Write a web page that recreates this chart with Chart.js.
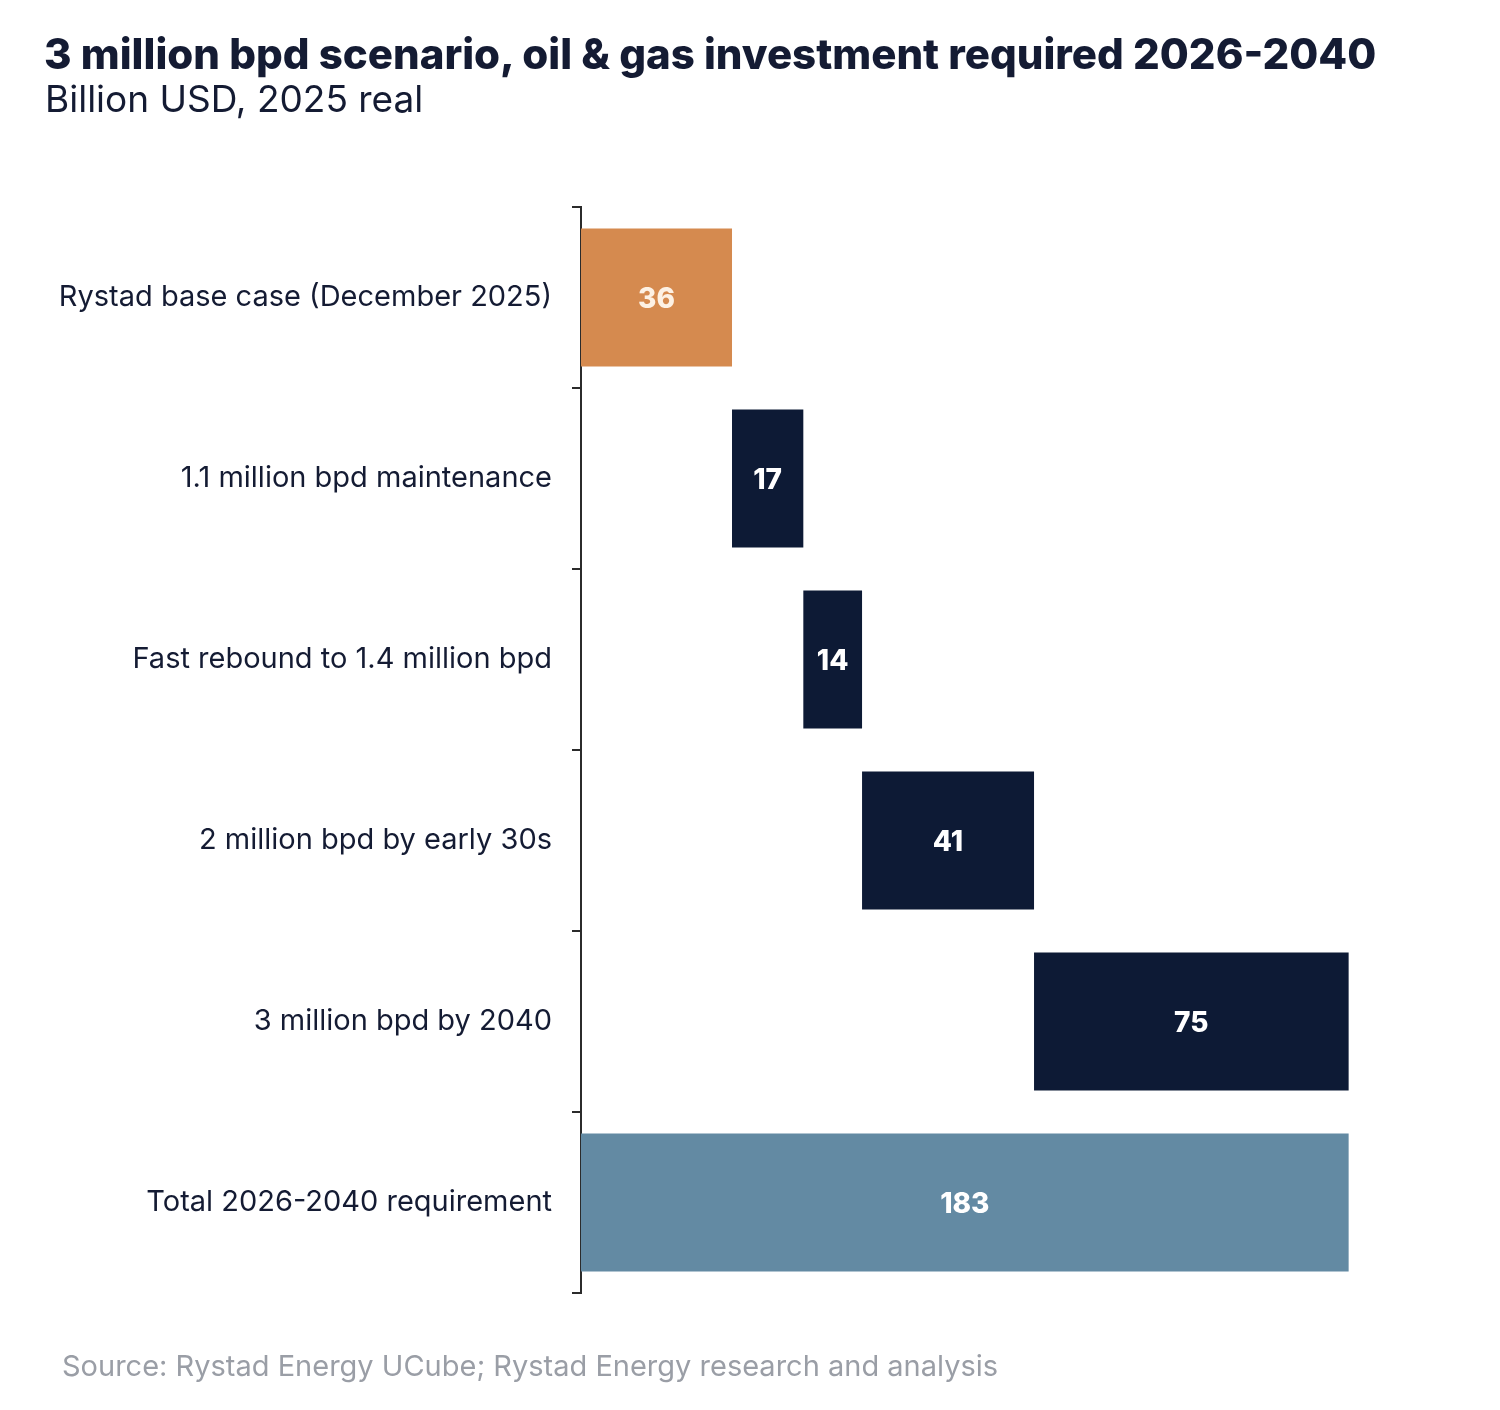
<!DOCTYPE html>
<html>
<head>
<meta charset="utf-8">
<script src="https://cdn.jsdelivr.net/npm/chart.js@4"></script>
<style>
  html, body { margin: 0; padding: 0; background: #ffffff; }
  #wrap { position: relative; width: 1500px; height: 1410px; }
  #myChart { position: absolute; left: 0; top: 0; }
  .title { position: absolute; left: 44px; top: 28px; font: 800 42px Inter, "Liberation Sans", sans-serif; color: #141b33; white-space: nowrap; }
  .subtitle { position: absolute; left: 45px; top: 76px; font: 37px Inter, "Liberation Sans", sans-serif; color: #141b33; white-space: nowrap; }
  .source { position: absolute; left: 62px; top: 1348px; font: 29px Inter, "Liberation Sans", sans-serif; color: #9a9ea6; white-space: nowrap; }
</style>
</head>
<body>
<div id="wrap">
  <canvas id="myChart" width="1500" height="1410"></canvas>
  <div class="title">3 million bpd scenario, oil &amp; gas investment required 2026-2040</div>
  <div class="subtitle">Billion USD, 2025 real</div>
  <div class="source">Source: Rystad Energy UCube; Rystad Energy research and analysis</div>
</div>
<script>
const labels = [
    'Rystad base case (December 2025)',
    '1.1 million bpd maintenance',
    'Fast rebound to 1.4 million bpd',
    '2 million bpd by early 30s',
    '3 million bpd by 2040',
    'Total 2026-2040 requirement'
];
const values = [36, 17, 14, 41, 75, 183];
const isTotal = [false, false, false, false, false, true];
const colors = ['#d58a4f', '#0d1a35', '#0d1a35', '#0d1a35', '#0d1a35', '#638aa3'];

// waterfall: each step floats on top of the running sum
const ranges = [];
let running = 0;
values.forEach((v, i) => {
    if (isTotal[i]) {
        ranges.push([0, v]);
    } else {
        ranges.push([running, running + v]);
        running += v;
    }
});

const barLabels = {
    id: 'barLabels',
    afterDatasetsDraw(chart) {
        const ctx = chart.ctx;
        const meta = chart.getDatasetMeta(0);
        ctx.save();
        ctx.font = '800 28px Inter, "Liberation Sans", sans-serif';
        ctx.textAlign = 'center';
        ctx.textBaseline = 'middle';
        meta.data.forEach((bar, i) => {
            ctx.fillStyle = i === 0 ? '#fdf1e4' : '#ffffff';
            ctx.fillText(values[i], (bar.x + bar.base) / 2, bar.y + 2);
        });
        ctx.restore();
    }
};

const ctx = document.getElementById('myChart').getContext('2d');
const myChart = new Chart(ctx, {
    type: 'bar',
    data: {
        labels: labels,
        datasets: [{
            data: ranges,
            backgroundColor: colors,
            borderWidth: 0,
            borderSkipped: false,
            barPercentage: 0.762,
            categoryPercentage: 1
        }]
    },
    options: {
        indexAxis: 'y',
        responsive: false,
        animation: false,
        devicePixelRatio: 1,
        layout: { padding: { top: 207, bottom: 117, right: 122, left: 0 } },
        plugins: {
            legend: { display: false },
            tooltip: { enabled: false }
        },
        scales: {
            x: {
                display: false,
                min: 0,
                max: 190
            },
            y: {
                afterFit(scale) { scale.width = 581; },
                border: { display: true, color: '#2b2b2b', width: 2 },
                grid: {
                    drawOnChartArea: false,
                    drawTicks: true,
                    tickLength: 9,
                    color: '#2b2b2b',
                    lineWidth: 2,
                    offset: true
                },
                ticks: {
                    padding: 20,
                    color: '#141b33',
                    font: { family: 'Inter, "Liberation Sans", sans-serif', size: 29 }
                }
            }
        }
    },
    plugins: [barLabels]
});
</script>
</body>
</html>
